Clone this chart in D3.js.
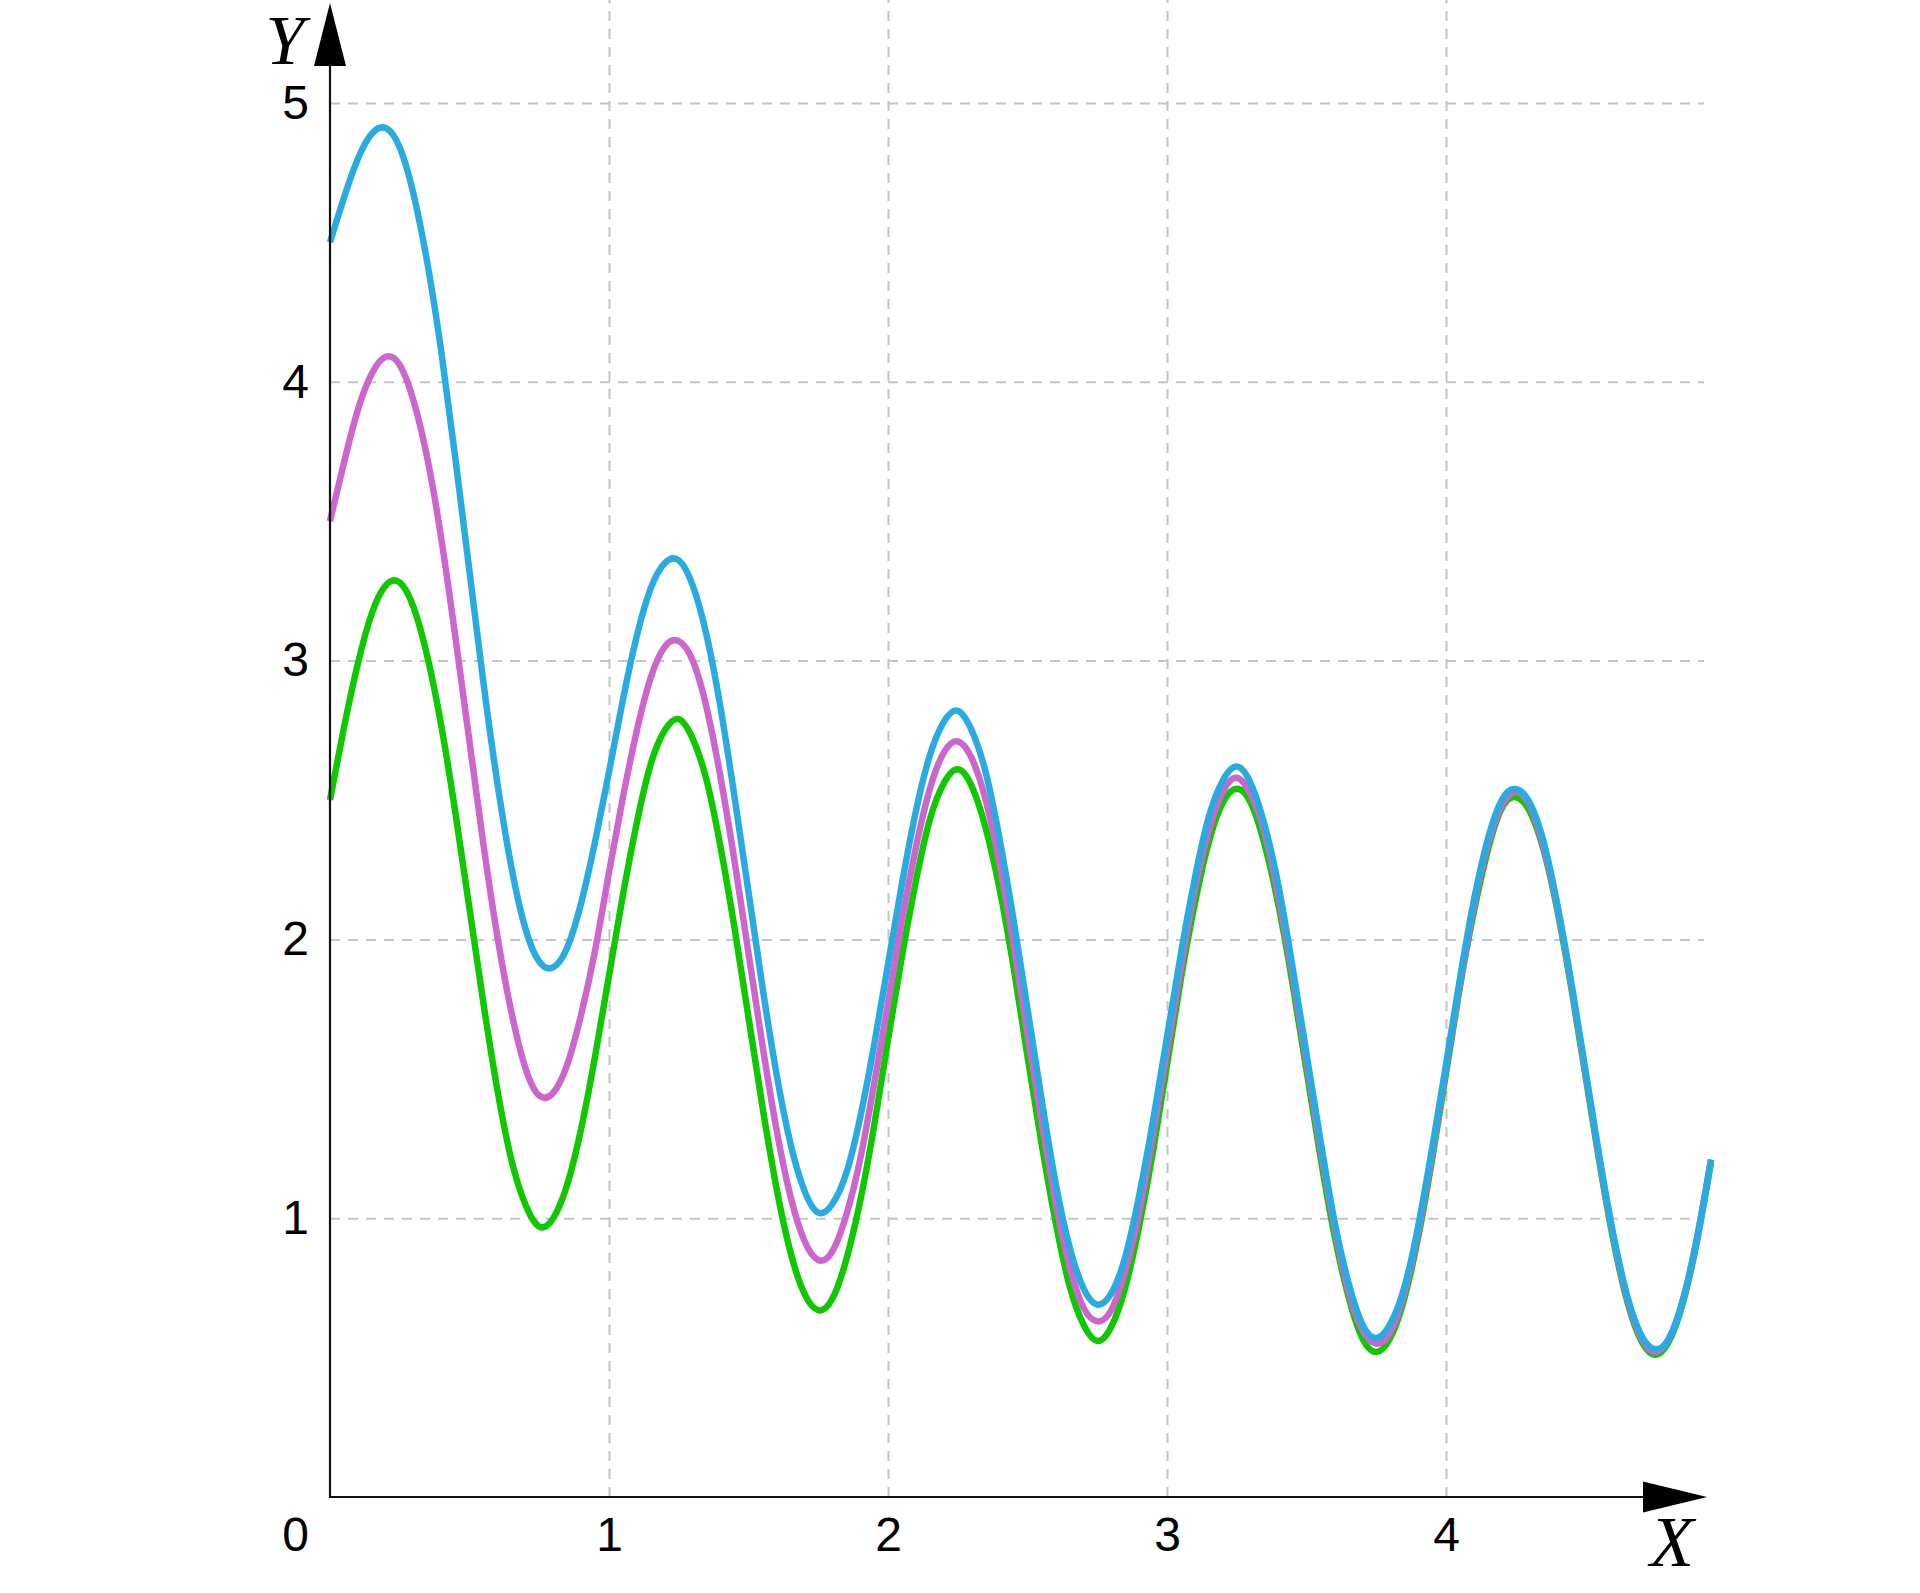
<!DOCTYPE html>
<html>
<head>
<meta charset="utf-8">
<script src="https://cdn.jsdelivr.net/npm/d3@7"></script>
<style>
  html, body { margin: 0; padding: 0; background: #ffffff; }
  svg { display: block; }
</style>
</head>
<body>
<script>
const xStep = 0.05;
const xCount = 100; // x = 0.00 .. 4.95
const xValues = Array.from({length: xCount}, (_, i) => +(i * xStep).toFixed(2));

const greenValues = [
  2.50, 2.76, 2.99, 3.17, 3.27, 3.28, 3.19, 3.01, 2.76, 2.45,
  2.11, 1.77, 1.46, 1.21, 1.05, 0.97, 1.00, 1.12, 1.32, 1.58,
  1.87, 2.16, 2.42, 2.63, 2.75, 2.79, 2.72, 2.57, 2.33, 2.04,
  1.72, 1.40, 1.11, 0.88, 0.73, 0.67, 0.71, 0.85, 1.06, 1.33,
  1.64, 1.94, 2.21, 2.43, 2.56, 2.61, 2.55, 2.40, 2.18, 1.90,
  1.58, 1.27, 0.99, 0.76, 0.62, 0.56, 0.61, 0.75, 0.97, 1.24,
  1.55, 1.86, 2.13, 2.35, 2.49, 2.54, 2.49, 2.34, 2.12, 1.84,
  1.53, 1.22, 0.94, 0.72, 0.57, 0.52, 0.57, 0.71, 0.93, 1.21,
  1.52, 1.83, 2.10, 2.32, 2.47, 2.51, 2.46, 2.32, 2.10, 1.82,
  1.51, 1.20, 0.92, 0.70, 0.56, 0.51, 0.56, 0.70, 0.92, 1.20
];
const magentaValues = [
  3.50, 3.71, 3.90, 4.03, 4.09, 4.06, 3.93, 3.72, 3.43, 3.08,
  2.71, 2.34, 2.01, 1.74, 1.54, 1.44, 1.45, 1.55, 1.73, 1.96,
  2.24, 2.51, 2.75, 2.94, 3.05, 3.07, 3.00, 2.83, 2.58, 2.28,
  1.95, 1.62, 1.32, 1.08, 0.92, 0.85, 0.88, 1.01, 1.21, 1.48,
  1.77, 2.07, 2.33, 2.54, 2.67, 2.71, 2.65, 2.50, 2.27, 1.98,
  1.66, 1.35, 1.06, 0.83, 0.68, 0.63, 0.67, 0.81, 1.02, 1.30,
  1.60, 1.90, 2.18, 2.39, 2.53, 2.58, 2.52, 2.38, 2.15, 1.87,
  1.56, 1.25, 0.97, 0.74, 0.60, 0.55, 0.59, 0.73, 0.95, 1.23,
  1.54, 1.84, 2.12, 2.34, 2.48, 2.53, 2.48, 2.33, 2.11, 1.83,
  1.52, 1.21, 0.93, 0.71, 0.57, 0.52, 0.57, 0.71, 0.93, 1.21
];
const blueValues = [
  4.50, 4.66, 4.80, 4.89, 4.91, 4.84, 4.67, 4.42, 4.10, 3.72,
  3.32, 2.92, 2.56, 2.26, 2.04, 1.92, 1.90, 1.97, 2.13, 2.35,
  2.60, 2.86, 3.09, 3.26, 3.35, 3.36, 3.27, 3.09, 2.83, 2.51,
  2.17, 1.83, 1.52, 1.27, 1.10, 1.02, 1.05, 1.16, 1.36, 1.62,
  1.91, 2.20, 2.46, 2.66, 2.78, 2.82, 2.75, 2.60, 2.36, 2.07,
  1.75, 1.43, 1.13, 0.90, 0.75, 0.69, 0.73, 0.86, 1.08, 1.35,
  1.65, 1.95, 2.22, 2.44, 2.57, 2.62, 2.56, 2.41, 2.19, 1.90,
  1.59, 1.28, 0.99, 0.77, 0.62, 0.57, 0.62, 0.75, 0.97, 1.25,
  1.55, 1.86, 2.14, 2.36, 2.50, 2.54, 2.49, 2.35, 2.12, 1.84,
  1.53, 1.22, 0.94, 0.72, 0.58, 0.53, 0.57, 0.71, 0.93, 1.21
];

const xTickValues = [1, 2, 3, 4];
const xTickLabels = ["1", "2", "3", "4"];
const yTickValues = [1, 2, 3, 4, 5];
const yTickLabels = ["1", "2", "3", "4", "5"];
const originLabel = "0";
const xAxisTitle = "X";
const yAxisTitle = "Y";

const seriesNames = ["green", "magenta", "blue"];
const seriesValues = [greenValues, magentaValues, blueValues];
const seriesColors = ["#11c800", "#cc66cc", "#29abe2"];

// ---- Layout ----
const W = 1920, H = 1593;
const x0 = 330, y0 = 1497;
const unitX = 279, unitY = 278.8;

const svg = d3.select("body").append("svg")
  .attr("width", W).attr("height", H)
  .attr("viewBox", `0 0 ${W} ${H}`);
svg.append("rect").attr("width", W).attr("height", H).attr("fill", "#ffffff");

const x = d3.scaleLinear().domain([0, 5]).range([x0, x0 + 5 * unitX]);
const y = d3.scaleLinear().domain([0, 5]).range([y0, y0 - 5 * unitY]);

const gridRight = 1704;
const gridTop = 0;
const gridStyle = { stroke: "#c4c4c4", width: 2, dash: "10,8" };

// Y axis (ticks as horizontal grid lines + labels)
const yAxis = d3.axisLeft(y)
  .tickValues(yTickValues)
  .tickFormat((d, i) => yTickLabels[i])
  .tickSize(-(gridRight - x0))
  .tickPadding(21);
const gy = svg.append("g").attr("transform", `translate(${x0},0)`).call(yAxis);
gy.select(".domain").remove();
gy.selectAll(".tick line")
  .attr("stroke", gridStyle.stroke)
  .attr("stroke-width", gridStyle.width)
  .attr("stroke-dasharray", gridStyle.dash);
gy.selectAll(".tick text")
  .attr("font-family", "Liberation Sans, Arial, sans-serif")
  .attr("font-size", 48)
  .attr("fill", "#000");

// X axis (ticks as vertical grid lines + labels)
const xAxis = d3.axisBottom(x)
  .tickValues(xTickValues)
  .tickFormat((d, i) => xTickLabels[i])
  .tickSize(-(y0 - gridTop))
  .tickPadding(20);
const gx = svg.append("g").attr("transform", `translate(0,${y0})`).call(xAxis);
gx.select(".domain").remove();
gx.selectAll(".tick line")
  .attr("stroke", gridStyle.stroke)
  .attr("stroke-width", gridStyle.width)
  .attr("stroke-dasharray", gridStyle.dash);
gx.selectAll(".tick text")
  .attr("font-family", "Liberation Sans, Arial, sans-serif")
  .attr("font-size", 48)
  .attr("fill", "#000");

// Origin label
svg.append("text")
  .attr("x", x0 - 21).attr("y", y0 + 20)
  .attr("dy", "0.71em")
  .attr("text-anchor", "end")
  .attr("font-family", "Liberation Sans, Arial, sans-serif")
  .attr("font-size", 48)
  .attr("fill", "#000")
  .text(originLabel);

// Curves
const line = d3.line()
  .x((d, i) => x(xValues[i]))
  .y(d => y(d))
  .curve(d3.curveNatural);

svg.append("g").selectAll("path")
  .data(seriesValues)
  .join("path")
  .attr("d", d => line(d))
  .attr("fill", "none")
  .attr("stroke", (d, i) => seriesColors[i])
  .attr("stroke-width", 6.5)
  .attr("stroke-linejoin", "round")
  .attr("stroke-linecap", "butt");

// Axis lines with arrowheads
const axisColor = "#111";
const xArrowBase = 1643, xArrowTip = 1707, arrowHalf = 15.5;
const yArrowBase = 66, yArrowTip = 3;

svg.append("line")
  .attr("x1", x0).attr("y1", y0).attr("x2", xArrowBase).attr("y2", y0)
  .attr("stroke", axisColor).attr("stroke-width", 2.2);
svg.append("line")
  .attr("x1", x0).attr("y1", y0 + 1).attr("x2", x0).attr("y2", yArrowBase)
  .attr("stroke", axisColor).attr("stroke-width", 2.2);

svg.append("path")
  .attr("d", `M${xArrowTip},${y0} L${xArrowBase},${y0 - arrowHalf} L${xArrowBase},${y0 + arrowHalf} Z`)
  .attr("fill", "#000");
svg.append("path")
  .attr("d", `M${x0},${yArrowTip} L${x0 - 16},${yArrowBase} L${x0 + 16},${yArrowBase} Z`)
  .attr("fill", "#000");

// Axis titles
svg.append("text")
  .attr("x", 285).attr("y", 64)
  .attr("text-anchor", "middle")
  .attr("font-family", "Liberation Serif, Times New Roman, serif")
  .attr("font-style", "italic")
  .attr("font-size", 70)
  .attr("fill", "#000")
  .text(yAxisTitle);
svg.append("text")
  .attr("x", 1672).attr("y", 1566)
  .attr("text-anchor", "middle")
  .attr("font-family", "Liberation Serif, Times New Roman, serif")
  .attr("font-style", "italic")
  .attr("font-size", 72)
  .attr("fill", "#000")
  .text(xAxisTitle);
</script>
</body>
</html>
